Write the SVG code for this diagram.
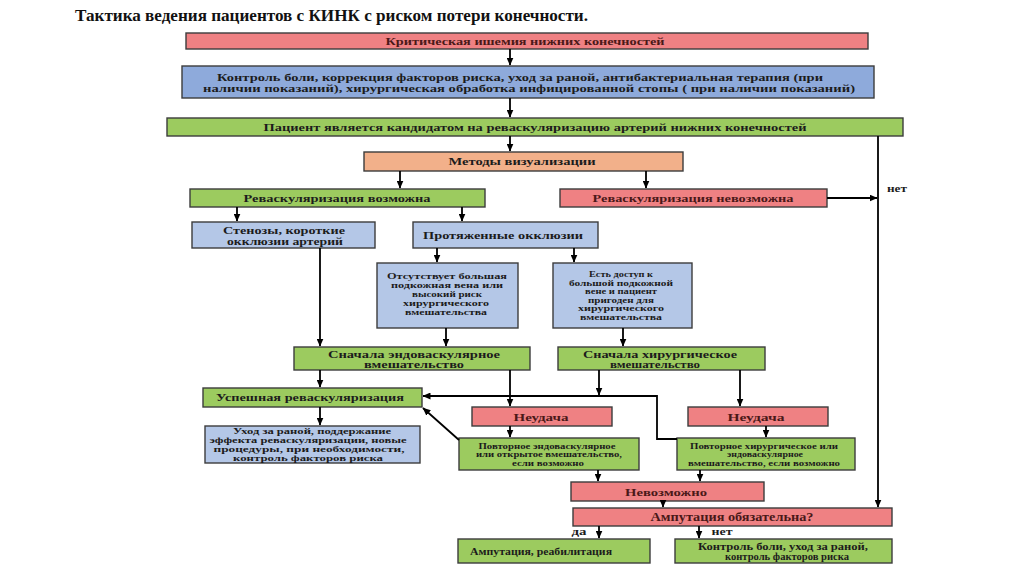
<svg xmlns="http://www.w3.org/2000/svg" width="1024" height="574" viewBox="0 0 1024 574">
<defs>
<marker id="ah" markerUnits="userSpaceOnUse" markerWidth="8" markerHeight="7" refX="7.5" refY="3.5" orient="auto">
<path d="M0,0 L8,3.5 L0,7 z" fill="#000"/>
</marker>
<style>
.b{stroke:#3c3c3c;stroke-width:1.4}
.red{fill:#ef8183}
.blue{fill:#8eaadb}
.lb{fill:#b4c7e7}
.grn{fill:#9ccb5f}
.org{fill:#f2b08a}
.t{font-family:"Liberation Serif","DejaVu Serif",serif;font-weight:bold;text-anchor:middle;fill:#1c1c1c}
.tr{fill:#4a1818}
.c line,.c polyline{stroke:#000;stroke-width:1.8;fill:none}
</style>
</defs>
<rect width="1024" height="574" fill="#fff"/>
<text x="75" y="21" font-family="'Liberation Serif','DejaVu Serif',serif" font-weight="bold" font-size="16" fill="#111" textLength="513" lengthAdjust="spacingAndGlyphs">Тактика ведения пациентов с КИНК с риском потери конечности.</text>

<g id="n1"><rect class="b red" x="186" y="33" width="682" height="16"/><text class="t tr" x="525" y="44.5" font-size="10" textLength="279" lengthAdjust="spacingAndGlyphs">Критическая ишемия нижних конечностей</text></g>
<g id="n2"><rect class="b blue" x="182" y="66" width="692" height="32"/><text class="t" x="520" y="81" font-size="10.5" textLength="606" lengthAdjust="spacingAndGlyphs">Контроль боли, коррекция факторов риска, уход за раной, антибактериальная терапия (при</text><text class="t" x="529" y="92" font-size="10.5" textLength="652" lengthAdjust="spacingAndGlyphs">наличии показаний), хирургическая обработка инфицированной стопы ( при наличии показаний)</text></g>
<g id="n3"><rect class="b grn" x="167" y="118" width="736" height="18"/><text class="t" x="535" y="130.5" font-size="10" textLength="543" lengthAdjust="spacingAndGlyphs">Пациент является кандидатом на реваскуляризацию артерий нижних конечностей</text></g>
<g id="n4"><rect class="b org" x="364" y="152" width="319" height="19"/><text class="t" x="522" y="165" font-size="11" textLength="147" lengthAdjust="spacingAndGlyphs">Методы визуализации</text></g>
<g id="n5"><rect class="b grn" x="190" y="189" width="295" height="18"/><text class="t" x="337" y="201.5" font-size="11" textLength="187" lengthAdjust="spacingAndGlyphs">Реваскуляризация возможна</text></g>
<g id="n6"><rect class="b red" x="560" y="189" width="267" height="18"/><text class="t tr" x="693" y="201.5" font-size="11" textLength="201" lengthAdjust="spacingAndGlyphs">Реваскуляризация невозможна</text></g>
<g id="n7"><rect class="b lb" x="192" y="222" width="183" height="26"/><text class="t" x="284" y="233.5" font-size="11" textLength="122" lengthAdjust="spacingAndGlyphs">Стенозы, короткие</text><text class="t" x="285" y="245" font-size="11" textLength="116" lengthAdjust="spacingAndGlyphs">окклюзии артерий</text></g>
<g id="n8"><rect class="b lb" x="413" y="222" width="185" height="26"/><text class="t" x="503" y="239" font-size="11" textLength="160" lengthAdjust="spacingAndGlyphs">Протяженные окклюзии</text></g>
<g id="n9"><rect class="b lb" x="377" y="263" width="141" height="65"/>
<text class="t" x="447" y="279" font-size="8.5" textLength="120" lengthAdjust="spacingAndGlyphs">Отсутствует большая</text>
<text class="t" x="447" y="288" font-size="8.5" textLength="112" lengthAdjust="spacingAndGlyphs">подкожная вена или</text>
<text class="t" x="447" y="297" font-size="8.5" textLength="70" lengthAdjust="spacingAndGlyphs">высокий риск</text>
<text class="t" x="446" y="306" font-size="8.5" textLength="86" lengthAdjust="spacingAndGlyphs">хирургического</text>
<text class="t" x="446" y="315" font-size="8.5" textLength="82" lengthAdjust="spacingAndGlyphs">вмешательства</text></g>
<g id="n10"><rect class="b lb" x="553" y="263" width="139" height="65"/>
<text class="t" x="621" y="277" font-size="8.5" textLength="64" lengthAdjust="spacingAndGlyphs">Есть доступ к</text>
<text class="t" x="621" y="285.5" font-size="8.5" textLength="104" lengthAdjust="spacingAndGlyphs">большой подкожной</text>
<text class="t" x="621" y="294" font-size="8.5" textLength="72" lengthAdjust="spacingAndGlyphs">вене и пациент</text>
<text class="t" x="621" y="302.5" font-size="8.5" textLength="66" lengthAdjust="spacingAndGlyphs">пригоден для</text>
<text class="t" x="621" y="311" font-size="8.5" textLength="86" lengthAdjust="spacingAndGlyphs">хирургического</text>
<text class="t" x="621" y="319.5" font-size="8.5" textLength="82" lengthAdjust="spacingAndGlyphs">вмешательства</text></g>
<g id="n11"><rect class="b grn" x="294" y="347" width="236" height="23"/><text class="t" x="414" y="357.5" font-size="10.5" textLength="172" lengthAdjust="spacingAndGlyphs">Сначала эндоваскулярное</text><text class="t" x="414" y="367.5" font-size="10.5" textLength="100" lengthAdjust="spacingAndGlyphs">вмешательство</text></g>
<g id="n12"><rect class="b grn" x="558" y="347" width="207" height="23"/><text class="t" x="660" y="357.5" font-size="10.5" textLength="154" lengthAdjust="spacingAndGlyphs">Сначала хирургическое</text><text class="t" x="655" y="367.5" font-size="10.5" textLength="90" lengthAdjust="spacingAndGlyphs">вмешательство</text></g>
<g id="n13"><rect class="b grn" x="203" y="388" width="219" height="19"/><text class="t" x="310" y="401" font-size="11" textLength="188" lengthAdjust="spacingAndGlyphs">Успешная реваскуляризация</text></g>
<g id="n14"><rect class="b lb" x="205" y="426" width="215" height="37"/>
<text class="t" x="312" y="434" font-size="9" textLength="158" lengthAdjust="spacingAndGlyphs">Уход за раной, поддержание</text>
<text class="t" x="308" y="443" font-size="9" textLength="197" lengthAdjust="spacingAndGlyphs">эффекта реваскуляризации, новые</text>
<text class="t" x="309" y="452" font-size="9" textLength="191" lengthAdjust="spacingAndGlyphs">процедуры, при необходимости,</text>
<text class="t" x="308" y="461" font-size="9" textLength="150" lengthAdjust="spacingAndGlyphs">контроль факторов риска</text></g>
<g id="n15"><rect class="b red" x="472" y="407" width="140" height="19"/><text class="t tr" x="541" y="420.5" font-size="11" textLength="55" lengthAdjust="spacingAndGlyphs">Неудача</text></g>
<g id="n16"><rect class="b red" x="688" y="407" width="140" height="19"/><text class="t tr" x="756" y="420.5" font-size="11" textLength="57" lengthAdjust="spacingAndGlyphs">Неудача</text></g>
<g id="n17"><rect class="b grn" x="459" y="438" width="180" height="32"/>
<text class="t" x="547" y="448.5" font-size="8.5" textLength="137" lengthAdjust="spacingAndGlyphs">Повторное эндоваскулярное</text>
<text class="t" x="549" y="457" font-size="8.5" textLength="146" lengthAdjust="spacingAndGlyphs">или открытое вмешательство,</text>
<text class="t" x="548" y="465.5" font-size="8.5" textLength="72" lengthAdjust="spacingAndGlyphs">если возможно</text></g>
<g id="n18"><rect class="b grn" x="677" y="438" width="178" height="32"/>
<text class="t" x="764" y="448.5" font-size="8.5" textLength="148" lengthAdjust="spacingAndGlyphs">Повторное  хирургическое или</text>
<text class="t" x="765" y="457" font-size="8.5" textLength="76" lengthAdjust="spacingAndGlyphs">эндоваскулярное</text>
<text class="t" x="764" y="465.5" font-size="8.5" textLength="152" lengthAdjust="spacingAndGlyphs">вмешательство, если возможно</text></g>
<g id="n19"><rect class="b red" x="571" y="482" width="193" height="19"/><text class="t tr" x="666" y="495.5" font-size="11" textLength="82" lengthAdjust="spacingAndGlyphs">Невозможно</text></g>
<g id="n20"><rect class="b red" x="573" y="508" width="319" height="18"/><text class="t tr" x="732" y="521" font-size="11.5" textLength="163" lengthAdjust="spacingAndGlyphs">Ампутация обязательна?</text></g>
<g id="n21"><rect class="b grn" x="458" y="539" width="192" height="24"/><text class="t" x="541" y="554.5" font-size="9.5" textLength="142" lengthAdjust="spacingAndGlyphs">Ампутация, реабилитация</text></g>
<g id="n22"><rect class="b grn" x="675" y="539" width="217" height="24"/><text class="t" x="783" y="549.5" font-size="9.5" textLength="170" lengthAdjust="spacingAndGlyphs">Контроль боли, уход за раной,</text><text class="t" x="787" y="559.5" font-size="9.5" textLength="124" lengthAdjust="spacingAndGlyphs">контроль факторов риска</text></g>

<g id="connectors" class="c">
<line x1="510" y1="49" x2="510" y2="65" marker-end="url(#ah)"/>
<line x1="510" y1="98" x2="510" y2="117" marker-end="url(#ah)"/>
<line x1="510" y1="136" x2="510" y2="151" marker-end="url(#ah)"/>
<line x1="878" y1="136" x2="878" y2="507" marker-end="url(#ah)"/>
<line x1="827" y1="198" x2="877" y2="198" marker-end="url(#ah)"/>
<line x1="400" y1="171" x2="400" y2="188" marker-end="url(#ah)"/>
<line x1="646" y1="171" x2="646" y2="188" marker-end="url(#ah)"/>
<line x1="237" y1="207" x2="237" y2="221" marker-end="url(#ah)"/>
<line x1="462" y1="207" x2="462" y2="221" marker-end="url(#ah)"/>
<line x1="320" y1="248" x2="320" y2="346" marker-end="url(#ah)"/>
<line x1="437" y1="248" x2="437" y2="262" marker-end="url(#ah)"/>
<line x1="574" y1="248" x2="574" y2="262" marker-end="url(#ah)"/>
<line x1="446" y1="328" x2="446" y2="346" marker-end="url(#ah)"/>
<line x1="623" y1="328" x2="623" y2="346" marker-end="url(#ah)"/>
<line x1="320" y1="370" x2="320" y2="387" marker-end="url(#ah)"/>
<line x1="510" y1="370" x2="510" y2="406" marker-end="url(#ah)"/>
<line x1="599" y1="370" x2="599" y2="395" marker-end="url(#ah)"/>
<line x1="740" y1="370" x2="740" y2="406" marker-end="url(#ah)"/>
<polyline points="677,439 657,439 657,396 423,396" marker-end="url(#ah)"/>
<line x1="459" y1="440" x2="423" y2="408" marker-end="url(#ah)"/>
<line x1="320" y1="407" x2="320" y2="425" marker-end="url(#ah)"/>
<line x1="510" y1="426" x2="510" y2="437" marker-end="url(#ah)"/>
<line x1="766" y1="426" x2="766" y2="437" marker-end="url(#ah)"/>
<line x1="598" y1="470" x2="598" y2="481" marker-end="url(#ah)"/>
<line x1="700" y1="470" x2="700" y2="481" marker-end="url(#ah)"/>
<line x1="663" y1="501" x2="663" y2="507" marker-end="url(#ah)"/>
<line x1="599" y1="526" x2="599" y2="538" marker-end="url(#ah)"/>
<line x1="699" y1="526" x2="699" y2="538" marker-end="url(#ah)"/>
</g>
<g id="labels">
<text class="t" x="897" y="192" font-size="10" textLength="20" lengthAdjust="spacingAndGlyphs">нет</text>
<text class="t" x="579" y="535" font-size="10" textLength="15" lengthAdjust="spacingAndGlyphs">да</text>
<text class="t" x="722" y="535" font-size="10" textLength="21" lengthAdjust="spacingAndGlyphs">нет</text>
</g>
</svg>
